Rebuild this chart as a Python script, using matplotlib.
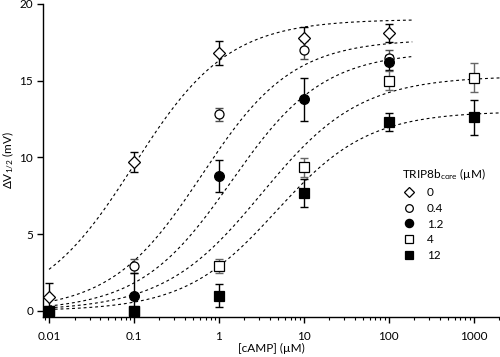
import numpy as np
import matplotlib
matplotlib.use("Agg")
import matplotlib.pyplot as plt
from matplotlib.ticker import LogLocator, NullFormatter, FixedLocator

plt.rcParams['font.family'] = ['Lato', 'DejaVu Sans']
plt.rcParams['mathtext.default'] = 'regular'

# cAMP concentrations (uM)
camp = [0.01, 0.1, 1, 10, 100]
camp_long = [0.01, 0.1, 1, 10, 100, 1000]

# TRIP8b_core concentrations (legend labels)
trip_labels = ["0", "0.4", "1.2", "4", "12"]

# delta V1/2 (mV) and error
v_0 = [0.9, 9.7, 16.8, 17.8, 18.1]
e_0 = [0.9, 0.65, 0.8, 0.7, 0.6]
v_04 = [0.0, 2.9, 12.8, 17.0, 16.5]
e_04 = [0.1, 0.45, 0.4, 0.6, 0.5]
v_12 = [0.0, 1.0, 8.8, 13.8, 16.2]
e_12 = [0.2, 1.5, 1.05, 1.4, 0.5]
v_4 = [0.0, 0.0, 2.9, 9.35, 15.0, 15.2]
e_4 = [0.1, 0.1, 0.45, 0.6, 0.6, 0.95]
v_12b = [0.0, 0.0, 1.0, 7.7, 12.3, 12.6]
e_12b = [0.1, 0.1, 0.75, 0.9, 0.6, 1.15]

# Hill fit parameters (Vmax, K, n) and fit range end
vmax = [19.0, 17.7, 16.9, 15.3, 13.0]
kd = [0.1, 0.63, 1.41, 3.2, 4.75]
nh = [0.78, 0.81, 0.8, 0.75, 0.8]
xend = [200, 190, 185, 2100, 2100]


def hill(x, vm, k, n):
    return vm / (1 + (k / x) ** n)


fig = plt.figure(figsize=(5, 3.57), dpi=100)
ax = fig.add_axes([0.086, 0.112, 0.914, 0.877])

for vm, k, n, xe in zip(vmax, kd, nh, xend):
    xs = np.logspace(-2, np.log10(xe), 200)
    ax.plot(xs, hill(xs, vm, k, n), color='black', lw=0.8,
            dashes=(2.6, 2.6), zorder=1)

series = [
    (camp, v_0, e_0, 'D', 'white', 6.5, 'black'),
    (camp, v_04, e_04, 'o', 'white', 6.5, '0.3'),
    (camp, v_12, e_12, 'o', 'black', 7, 'black'),
    (camp_long, v_4, e_4, 's', 'white', 7, '0.4'),
    (camp_long, v_12b, e_12b, 's', 'black', 7, 'black'),
]
handles = []
for (x, y, err, m, fc, ms, ec) in series:
    ax.errorbar(x, y, yerr=err, fmt='none', ecolor=ec, elinewidth=1.0,
                capsize=3, capthick=1.0, zorder=2)
    h, = ax.plot(x, y, linestyle='none', marker=m, mfc=fc, mec='black',
                 ms=ms, mew=0.9, zorder=3)
    handles.append(h)

ax.set_xscale('log')
ax.set_xlim(0.0085, 2050)
ax.set_ylim(-0.4, 20)
ax.xaxis.set_major_locator(FixedLocator([0.01, 0.1, 1, 10, 100, 1000]))
ax.set_xticklabels(["0.01", "0.1", "1", "10", "100", "1000"])
ax.xaxis.set_minor_locator(LogLocator(base=10, subs=np.arange(2, 10), numticks=20))
ax.xaxis.set_minor_formatter(NullFormatter())
ax.set_yticks([0, 5, 10, 15, 20])

for s in ['top', 'right']:
    ax.spines[s].set_visible(False)
ax.spines['left'].set_linewidth(1.0)
ax.spines['bottom'].set_linewidth(1.0)
ax.tick_params(axis='both', which='major', direction='out', length=4,
               width=1.0, labelsize=8.5)
ax.tick_params(axis='y', which='major', pad=3)
ax.tick_params(axis='x', which='major', pad=6)
ax.tick_params(axis='x', which='minor', direction='out', length=2.5, width=0.8)

ax.set_xlabel("[cAMP] (µM)", fontsize=8.5, labelpad=1)
ax.set_ylabel("ΔV$_{1/2}$ (mV)", fontsize=8.5, labelpad=1)
ax.yaxis.set_label_coords(-0.06, 0.5)

leg = ax.legend(handles, trip_labels, title="TRIP8b$_{core}$ (µM)",
                loc='upper left', bbox_to_anchor=(0.762, 0.515), frameon=False,
                fontsize=8.5, title_fontsize=8.5, handlelength=1.2,
                handletextpad=0.9, labelspacing=0.4, markerscale=0.85)
leg._legend_box.align = "left"

fig.savefig("out.png", dpi=100)
